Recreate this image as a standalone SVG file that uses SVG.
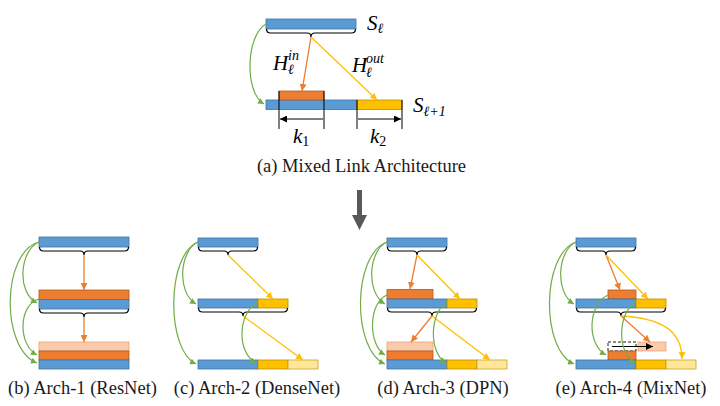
<svg xmlns="http://www.w3.org/2000/svg" width="720" height="406" viewBox="0 0 720 406">
<style>
.bl{fill:#5B9BD5;stroke:#41719C;stroke-width:0.8}
.or{fill:#ED7D31;stroke:#AE5A21;stroke-width:0.8}
.ye{fill:#FFC000;stroke:#BC8C00;stroke-width:0.8}
.lo{fill:#F8CBAD;stroke:#F4A070;stroke-width:0.8}
.ly{fill:#FFE699;stroke:#C9A227;stroke-width:0.8}
.br{fill:none;stroke:#000;stroke-width:1.2}
.g{fill:none;stroke:#70AD47;stroke-width:1.2;marker-end:url(#ag)}
.o{fill:none;stroke:#ED7D31;stroke-width:1.3;marker-end:url(#ao)}
.y{fill:none;stroke:#FFC000;stroke-width:1.3;marker-end:url(#ay)}
.cap{font-family:"Liberation Serif","Times New Roman",serif;font-size:18.5px;fill:#1a1a1a;text-anchor:middle}
.m{font-family:"Liberation Serif","Times New Roman",serif;font-style:italic;font-size:21px;fill:#000}
.s{font-size:14px}
.u{font-style:normal}
</style>
<defs>
<marker id="ag" viewBox="0 0 10 10" refX="10" refY="5" markerWidth="7" markerHeight="6" orient="auto" markerUnits="userSpaceOnUse"><path d="M0,0 L10,5 L0,10 z" fill="#70AD47"/></marker>
<marker id="ao" viewBox="0 0 10 10" refX="10" refY="5" markerWidth="7" markerHeight="7" orient="auto" markerUnits="userSpaceOnUse"><path d="M0,0 L10,5 L0,10 z" fill="#ED7D31"/></marker>
<marker id="ay" viewBox="0 0 10 10" refX="10" refY="5" markerWidth="7" markerHeight="7" orient="auto" markerUnits="userSpaceOnUse"><path d="M0,0 L10,5 L0,10 z" fill="#FFC000"/></marker>
<marker id="ak" viewBox="0 0 10 10" refX="10" refY="5" markerWidth="7" markerHeight="7" orient="auto-start-reverse" markerUnits="userSpaceOnUse"><path d="M0,0 L10,5 L0,10 z" fill="#000"/></marker>
</defs>

<!-- (a) -->
<g id="a-top">
<rect class="bl" x="266" y="19" width="90" height="10"/>
<path class="br" d="M266.5,29 q0,4 4,4 H307 q4,0 4,4 q0,-4 4,-4 H351.5 q4,0 4,-4"/>
<text class="m" x="367" y="30">S<tspan class="s" dy="3">ℓ</tspan></text>
</g>
<g id="a-bottom">
<rect class="bl" x="266" y="100" width="91" height="9.5"/>
<rect class="or" x="279" y="91" width="45" height="9"/>
<rect class="ye" x="357" y="100" width="45" height="9.5"/>
<path d="M279,91 V129 M324,91 V129 M357,100 V129 M402,100 V129" stroke="#000" stroke-width="1"/>
<text class="m" x="413" y="112">S<tspan class="s" dy="4">ℓ+1</tspan></text>
<text class="m" x="293" y="143">k<tspan class="s u" dy="3">1</tspan></text>
<text class="m" x="370" y="143">k<tspan class="s u" dy="3">2</tspan></text>
</g>
<g id="a-labels">
<text class="m" x="273" y="70">H</text>
<text class="m s" x="288" y="60">in</text>
<text class="m s" x="288" y="74">ℓ</text>
<text class="m" x="352" y="72">H</text>
<text class="m s" x="366" y="63">out</text>
<text class="m s" x="366" y="77">ℓ</text>
</g>
<g id="a-connectors">
<path class="g" d="M266,24 C246,35 244,92 264,104"/>
<path class="o" d="M311,37 L302,91"/>
<path class="y" d="M311,37 L377,100"/>
<path d="M280,119 H323 M358,119 H401" stroke="#000" stroke-width="1" marker-start="url(#ak)" marker-end="url(#ak)"/>
</g>
<text class="cap" x="361.5" y="172">(a) Mixed Link Architecture</text>
<g id="down-arrow"><polygon points="357,190 362,190 362,215 367,215 359.5,230 352,215 357,215" fill="#595959"/></g>

<!-- (b) -->
<g id="b-l0"><rect class="bl" x="39" y="237" width="90" height="10"/>
<path class="br" d="M39.5,247 q0,4 4,4 H80 q4,0 4,4 q0,-4 4,-4 H124.5 q4,0 4,-4"/></g>
<g id="b-l1"><rect class="or" x="39" y="290" width="90" height="9.5"/><rect class="bl" x="39" y="299.5" width="90" height="9.5"/>
<path class="br" d="M39.5,309 q0,4 4,4 H80 q4,0 4,4 q0,-4 4,-4 H124.5 q4,0 4,-4"/></g>
<g id="b-l2"><rect class="lo" x="39" y="342" width="90" height="9"/><rect class="or" x="39" y="351" width="90" height="9"/><rect class="bl" x="39" y="360" width="90" height="9"/></g>
<g id="b-connectors">
<path class="o" d="M84,255 V290"/>
<path class="o" d="M84,317 V342"/>
<path class="g" d="M39,242 C20,250 16,292 37,303"/>
<path class="g" d="M39,242 C2,252 0,348 37,363"/>
<path class="g" d="M39,299 C18,305 18,345 37,355"/>
</g>
<text class="cap" x="82.5" y="394">(b) Arch-1 (ResNet)</text>

<!-- (c) -->
<g id="c-l0"><rect class="bl" x="198" y="238" width="60" height="9"/>
<path class="br" d="M198.5,247 q0,4 4,4 H224 q4,0 4,4 q0,-4 4,-4 H253.5 q4,0 4,-4"/></g>
<g id="c-l1"><rect class="bl" x="198" y="299" width="60" height="9"/><rect class="ye" x="258" y="299" width="30" height="9"/>
<path class="br" d="M198.5,308 q0,4 4,4 H239 q4,0 4,4 q0,-4 4,-4 H283.5 q4,0 4,-4"/></g>
<g id="c-l2"><rect class="bl" x="198" y="360" width="60" height="9"/><rect class="ye" x="258" y="360" width="30" height="9"/><rect class="ly" x="288" y="360" width="30" height="9"/></g>
<g id="c-connectors">
<path class="y" d="M228,255 L273,299"/>
<path class="y" d="M243,316 L303,360"/>
<path class="g" d="M198,242 C180,250 176,292 196,304"/>
<path class="g" d="M198,242 C166,255 166,350 196,364"/>
<path class="g" d="M258,302 C238,312 236,352 256,363"/>
</g>
<text class="cap" x="257" y="394">(c) Arch-2 (DenseNet)</text>

<!-- (d) -->
<g id="d-l0"><rect class="bl" x="387" y="238" width="60" height="9"/>
<path class="br" d="M387.5,247 q0,4 4,4 H413 q4,0 4,4 q0,-4 4,-4 H442.5 q4,0 4,-4"/></g>
<g id="d-l1"><rect class="or" x="387" y="289.5" width="46" height="9.5"/><rect class="bl" x="387" y="299" width="60" height="9"/><rect class="ye" x="447" y="299" width="30" height="9"/>
<path class="br" d="M387.5,308 q0,4 4,4 H428 q4,0 4,4 q0,-4 4,-4 H472.5 q4,0 4,-4"/></g>
<g id="d-l2"><rect class="lo" x="387" y="342" width="46" height="9"/><rect class="or" x="387" y="351" width="46" height="9"/><rect class="bl" x="387" y="360" width="60" height="9"/><rect class="ye" x="447" y="360" width="30" height="9"/><rect class="ly" x="477" y="360" width="30" height="9"/></g>
<g id="d-connectors">
<path class="o" d="M417,255 L410,289"/>
<path class="y" d="M417,255 L460,299"/>
<path class="o" d="M432,316 L411,342"/>
<path class="y" d="M432,316 L490,360"/>
<path class="g" d="M387,242 C369,250 365,292 385,304"/>
<path class="g" d="M387,242 C352,255 352,350 385,364"/>
<path class="g" d="M387,295 C368,303 368,345 385,355"/>
<path class="g" d="M447,302 C430,312 428,352 446,363"/>
</g>
<text class="cap" x="443" y="394">(d) Arch-3 (DPN)</text>

<!-- (e) -->
<g id="e-l0"><rect class="bl" x="576" y="238" width="60" height="9"/>
<path class="br" d="M576.5,247 q0,4 4,4 H602 q4,0 4,4 q0,-4 4,-4 H631.5 q4,0 4,-4"/></g>
<g id="e-l1"><rect class="or" x="608" y="290" width="28" height="9"/><rect class="bl" x="576" y="299" width="60" height="9"/><rect class="ye" x="636" y="299" width="30" height="9"/>
<path class="br" d="M576.5,308 q0,4 4,4 H617 q4,0 4,4 q0,-4 4,-4 H661.5 q4,0 4,-4"/></g>
<g id="e-l2"><rect x="608" y="342" width="28" height="9" fill="#fff" stroke="#000" stroke-width="0.9" stroke-dasharray="3,2"/><rect class="lo" x="638" y="342" width="28" height="9"/>
<rect class="or" x="608" y="351" width="28" height="9"/><rect class="bl" x="576" y="360" width="60" height="9"/><rect class="ye" x="636" y="360" width="30" height="9"/><rect class="ly" x="666" y="360" width="30" height="9"/></g>
<g id="e-connectors">
<path class="o" d="M606,255 L620,290"/>
<path class="y" d="M606,255 L648,299"/>
<path class="o" d="M621,316 L650,342"/>
<path class="y" d="M621,316 C660,318 682,330 682,359"/>
<path d="M612,346.5 H653" stroke="#000" stroke-width="1.2" marker-end="url(#ak)"/>
<path class="g" d="M576,242 C558,250 554,292 574,304"/>
<path class="g" d="M576,242 C541,255 541,350 574,364"/>
<path class="g" d="M608,295 C587,305 587,345 606,355"/>
<path class="g" d="M636,302 C618,312 616,352 635,363"/>
</g>
<text class="cap" x="631" y="394">(e) Arch-4 (MixNet)</text>
</svg>
